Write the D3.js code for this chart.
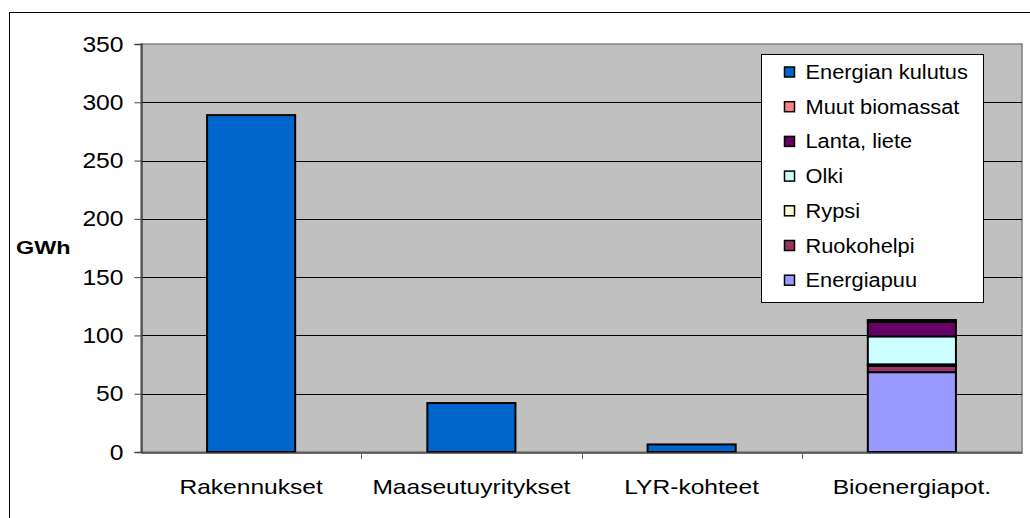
<!DOCTYPE html>
<html>
<head>
<meta charset="utf-8">
<script src="https://cdn.jsdelivr.net/npm/d3@7"></script>
<style>
  body { margin: 0; background: #fff; }
  text { font-family: Arial, "Liberation Sans", sans-serif; fill: #000; }
</style>
</head>
<body>
<svg width="1030" height="518"></svg>
<script>
// categories and series (GWh)
var categories = ["Rakennukset", "Maaseutuyritykset", "LYR-kohteet", "Bioenergiapot."];
var seriesNames = ["Energian kulutus", "Energiapuu", "Ruokohelpi", "Rypsi", "Olki", "Lanta, liete", "Muut biomassat"];
var energianKulutus = [289, 42, 6.5, 0];
var energiapuu      = [0, 0, 0, 68.5];
var ruokohelpi      = [0, 0, 0, 5.5];
var rypsi           = [0, 0, 0, 1.2];
var olki            = [0, 0, 0, 24];
var lantaLiete      = [0, 0, 0, 12.5];
var muutBiomassat   = [0, 0, 0, 1.5];
var yTicks = [0, 50, 100, 150, 200, 250, 300, 350];
var legendOrder = ["Energian kulutus", "Muut biomassat", "Lanta, liete", "Olki", "Rypsi", "Ruokohelpi", "Energiapuu"];

var colors = {
    "Energian kulutus": "#0066cc",
    "Muut biomassat": "#ff8080",
    "Lanta, liete": "#660066",
    "Olki": "#ccffff",
    "Rypsi": "#ffffcc",
    "Ruokohelpi": "#993366",
    "Energiapuu": "#9999ff"
};

var values = {
    "Energian kulutus": energianKulutus,
    "Energiapuu": energiapuu,
    "Ruokohelpi": ruokohelpi,
    "Rypsi": rypsi,
    "Olki": olki,
    "Lanta, liete": lantaLiete,
    "Muut biomassat": muutBiomassat
};

var table = categories.map(function(c, i) {
    var row = {category: c};
    seriesNames.forEach(function(s) { row[s] = values[s][i]; });
    return row;
});

var svg = d3.select("svg");
var margin = {left: 141, top: 44, right: 1022, bottom: 452};

// outer chart frame
svg.append("rect")
    .attr("x", 9.5).attr("y", 12.5)
    .attr("width", 1100).attr("height", 600)
    .attr("fill", "#fff").attr("stroke", "#000").attr("stroke-width", 1);

var x = d3.scaleBand().domain(categories).range([margin.left, margin.right]).paddingInner(0.6).paddingOuter(0.3);
var xb = d3.scaleBand().domain(categories).range([margin.left, margin.right]);
var y = d3.scaleLinear().domain([0, 350]).range([margin.bottom, margin.top]);

// plot background
svg.append("rect")
    .attr("x", margin.left).attr("y", margin.top)
    .attr("width", margin.right - margin.left).attr("height", margin.bottom - margin.top)
    .attr("fill", "#c0c0c0").attr("stroke", "#808080").attr("stroke-width", 1.5);

// gridlines
svg.append("g").selectAll("line").data(yTicks.slice(1, -1)).enter().append("line")
    .attr("x1", margin.left).attr("x2", margin.right)
    .attr("y1", function(d) { return Math.round(y(d)) + 0.5; })
    .attr("y2", function(d) { return Math.round(y(d)) + 0.5; })
    .attr("stroke", "#000").attr("stroke-width", 1);

// bars
var stack = d3.stack().keys(seriesNames);
var layers = stack(table);

svg.append("g").selectAll("g").data(layers).enter().append("g")
    .attr("fill", function(d) { return colors[d.key]; })
    .selectAll("rect").data(function(d) { return d.filter(function(p) { return p[1] - p[0] > 0; }); })
    .enter().append("rect")
    .attr("x", function(d) { return x(d.data.category); })
    .attr("width", x.bandwidth())
    .attr("y", function(d) { return y(d[1]); })
    .attr("height", function(d) { return y(d[0]) - y(d[1]); })
    .attr("stroke", "#000").attr("stroke-width", 2);

// y axis
var yAxis = svg.append("g")
    .attr("transform", "translate(" + (margin.left + 0.5) + ",0)")
    .call(d3.axisLeft(y).tickValues(yTicks).tickSize(7).tickPadding(11));
yAxis.select(".domain").attr("stroke", "#404040").attr("stroke-width", 1.5);
yAxis.selectAll(".tick line").attr("stroke", "#404040");
yAxis.selectAll("text").attr("font-size", 22).attr("font-family", "Arial, 'Liberation Sans', sans-serif").attr("fill", "#000");

// x axis
var xAxis = svg.append("g")
    .attr("transform", "translate(0," + (margin.bottom + 0.5) + ")")
    .call(d3.axisBottom(xb).tickSize(0).tickPadding(27));
xAxis.select(".domain").attr("stroke", "#404040").attr("stroke-width", 1.5);
xAxis.selectAll("text").attr("font-size", 21).attr("font-family", "Arial, 'Liberation Sans', sans-serif").attr("fill", "#000");

// category separator ticks
svg.append("g").selectAll("line").data(categories.slice(1)).enter().append("line")
    .attr("x1", function(d) { return Math.round(xb(d)) + 0.5; })
    .attr("x2", function(d) { return Math.round(xb(d)) + 0.5; })
    .attr("y1", margin.bottom).attr("y2", margin.bottom + 7)
    .attr("stroke", "#606060").attr("stroke-width", 1);

// y title
svg.append("text")
    .attr("class", "ytitle")
    .attr("x", 16).attr("y", 254)
    .attr("font-size", 18).attr("font-weight", "bold")
    .text("GWh");

// legend
var legend = svg.append("g").attr("transform", "translate(761.5,54.5)");
legend.append("rect")
    .attr("width", 222).attr("height", 248)
    .attr("fill", "#fff").attr("stroke", "#000").attr("stroke-width", 1);

var item = legend.selectAll("g.item").data(legendOrder).enter().append("g")
    .attr("class", "item")
    .attr("transform", function(d, i) { return "translate(0," + (17.5 + i * 34.7) + ")"; });
item.append("rect")
    .attr("x", 23).attr("y", -5)
    .attr("width", 10).attr("height", 10)
    .attr("fill", function(d) { return colors[d]; })
    .attr("stroke", "#000").attr("stroke-width", 1.5);
item.append("text")
    .attr("x", 44).attr("y", 7)
    .attr("font-size", 20)
    .text(function(d) { return d; });

// the source renders its text a bit wider than Arial
function widen(sel, k) {
    sel.each(function() {
        var w = this.getComputedTextLength();
        d3.select(this).attr("textLength", w * k).attr("lengthAdjust", "spacingAndGlyphs");
    });
}
widen(yAxis.selectAll("text"), 1.12);
widen(xAxis.selectAll("text"), 1.17);
widen(item.selectAll("text"), 1.09);
widen(svg.selectAll(".ytitle"), 1.3);
</script>
</body>
</html>
